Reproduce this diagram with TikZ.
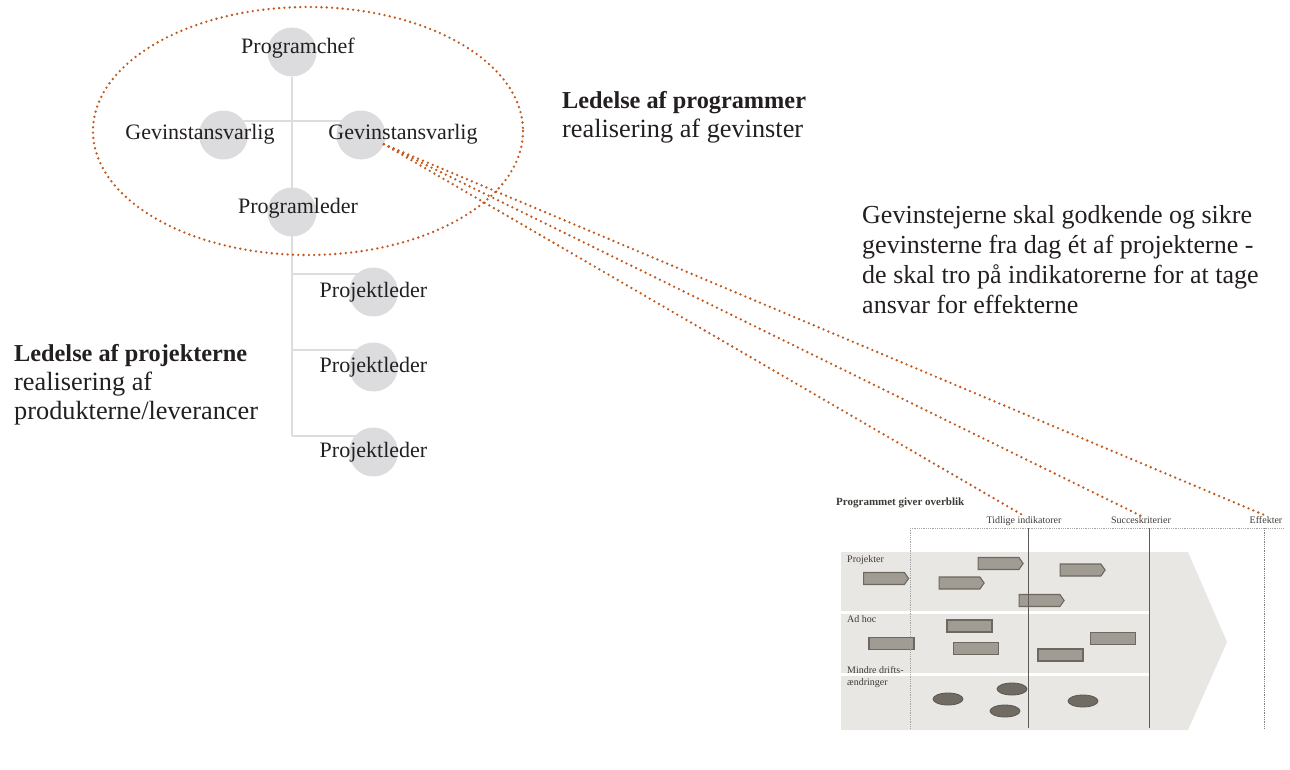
\documentclass[tikz,border=0pt]{standalone}
\usepackage{fontspec}
\setmainfont{Liberation Serif}
\usetikzlibrary{positioning,calc,shapes.geometric,shapes.symbols,backgrounds}
\definecolor{ink}{HTML}{231F20}
\definecolor{inksoft}{HTML}{3E3B37}
\definecolor{rust}{HTML}{C4571B}
\definecolor{disc}{HTML}{DCDCDE}
\definecolor{twig}{HTML}{DDDDDD}
\definecolor{band}{HTML}{E8E7E3}
\definecolor{block}{HTML}{A09C93}
\definecolor{blockedge}{HTML}{6D6961}
\definecolor{blob}{HTML}{716C63}
\definecolor{blobedge}{HTML}{5A564F}
\definecolor{grid}{HTML}{5E5B56}
\newcommand{\pxfont}[2]{\fontsize{#1}{#2}\selectfont}
\newcommand{\lead}[1]{{\bfseries\pxfont{24.3}{29}#1}}

\begin{document}
\begin{tikzpicture}[x=1pt,y=-1pt,
  role/.style={circle,fill=disc,minimum size=49pt,inner sep=0pt},
  tag/.style={font=\pxfont{22}{26},text=ink,inner sep=0pt},
  head/.style={font=\pxfont{26.3}{29},text=ink,align=left,inner sep=0pt,anchor=north west},
  link/.style={draw=twig,line width=2pt},
  trail/.style={draw=rust,line width=2.6pt,line cap=round,dash pattern=on 0pt off 5.3pt},
  small/.style={font=\pxfont{10}{12},text=inksoft,inner sep=0pt},
  task/.style={signal,signal to=east,signal pointer angle=110,fill=block,draw=blockedge,
    line width=1.1pt,minimum width=45pt,minimum height=12pt,inner sep=0pt},
  job/.style={rectangle,fill=block,draw=blockedge,line width=1.1pt,
    minimum width=45pt,minimum height=12pt,inner sep=0pt},
  fix/.style={ellipse,fill=blob,draw=blobedge,line width=0.8pt,
    minimum width=30pt,minimum height=12pt,inner sep=0pt},
  rule/.style={draw=grid,line width=0.8pt},
  fine/.style={draw=gray!70,line width=0.8pt,densely dotted},
]
\useasboundingbox (0,0) rectangle (1290,769);

% organisation
\node[role] (pc) at (292,52) {};
\node[role] (ga) at (223.5,135) {};
\node[role] (gb) at (361,135) {};
\node[role] (pl) at (292,212) {};
\node[role] (pj1) at (373.5,292) {};
\node[role] (pj2) at (373.5,367) {};
\node[role] (pj3) at (373.5,452) {};
\coordinate (b1) at ([yshift=18pt]pj1.center);
\coordinate (b2) at ([yshift=17pt]pj2.center);
\coordinate (b3) at ([yshift=16pt]pj3.center);
\begin{scope}[on background layer]
  \draw[link] (pc) -- (pc |- b3);
  \draw[link] ([yshift=14pt]ga.center) -- ([yshift=14pt]gb.center);
  \draw[link] (pc |- b1) -- (b1);
  \draw[link] (pc |- b2) -- (b2);
  \draw[link] (pc |- b3) -- (b3);
\end{scope}
\node[tag] (pc-t) at ([xshift=6pt,yshift=4pt]pc.center) {Programchef};
\node[tag] (ga-t) at ([xshift=-23.5pt,yshift=1pt]ga.center) {Gevinstansvarlig};
\node[tag] (gb-t) at ([xshift=42pt,yshift=1pt]gb.center) {Gevinstansvarlig};
\node[tag] (pl-t) at ([xshift=6pt,yshift=4pt]pl.center) {Programleder};
\node[tag] (pj1-t) at (pj1.center) {Projektleder};
\node[tag] (pj2-t) at (pj2.center) {Projektleder};
\node[tag] (pj3-t) at (pj3.center) {Projektleder};
\draw[trail] (308,131) ellipse [x radius=215, y radius=124];

% headings
\node[head] (prog) at (562,91) {\lead{Ledelse af programmer}\\realisering af gevinster};
\node[head] (proj) at (14,344) {\lead{Ledelse af projekterne}\\realisering af\\produkterne/leverancer};
\node[head,font=\pxfont{26}{30}] (owner) at (862,205)
  {Gevinstejerne skal godkende og sikre\\gevinsterne fra dag ét af projekterne -\\de skal tro på indikatorerne for at tage\\ansvar for effekterne};

% overview panel
\fill[band] (841,552) -- (1188,552) -- (1227,642) -- (1188,730) -- (841,730) -- cycle;
\fill[white] (841,611) rectangle (1150,614);
\fill[white] (841,673) rectangle (1150,676);
\node[small,font=\bfseries\pxfont{11}{12},anchor=base west] (ov) at (836,505) {Programmet giver overblik};
\node[small,anchor=base] (ti) at (1024,523) {Tidlige indikatorer};
\node[small,anchor=base] (sk) at (1141,523) {Succeskriterier};
\node[small,anchor=base] (ef) at (1266,523) {Effekter};
\node[small,anchor=base west] (r1) at (847,562) {Projekter};
\node[small,anchor=base west] (r2) at (847,622) {Ad hoc};
\node[small,anchor=base west,align=left,font=\pxfont{10}{12}] (r3) at (847,685) {Mindre drifts-\\ændringer};

\node[task] (p1) at (884,578.5) {};
\node[task] (p2) at (959.5,583) {};
\node[task] (p3) at (998.5,563.5) {};
\node[task] (p4) at (1080.5,570) {};
\node[task] (p5) at (1039.5,600.5) {};
\node[job] (a1) at (891.5,643.5) {};
\node[job] (a2) at (969.5,626) {};
\node[job] (a3) at (976,648.5) {};
\node[job] (a4) at (1060.5,655) {};
\node[job] (a5) at (1113,638.5) {};
\node[fix] (d1) at (948,699) {};
\node[fix] (d2) at (1012,689) {};
\node[fix] (d3) at (1005,711) {};
\node[fix] (d4) at (1083,701) {};

\draw[fine] (910,528) -- (1283,528);
\draw[fine] (910,528) -- (910,728);
\draw[rule] (1028,528) -- (1028,728);
\draw[rule] (1149,528) -- (1149,728);
\draw[fine,draw=gray] (1264,528) -- (1264,728);

\draw[trail] (gb.-22) -- (ti.north);
\draw[trail] (gb.-22) -- (sk.north);
\draw[trail] (gb.-22) -- (ef.north);
\end{tikzpicture}
\end{document}
